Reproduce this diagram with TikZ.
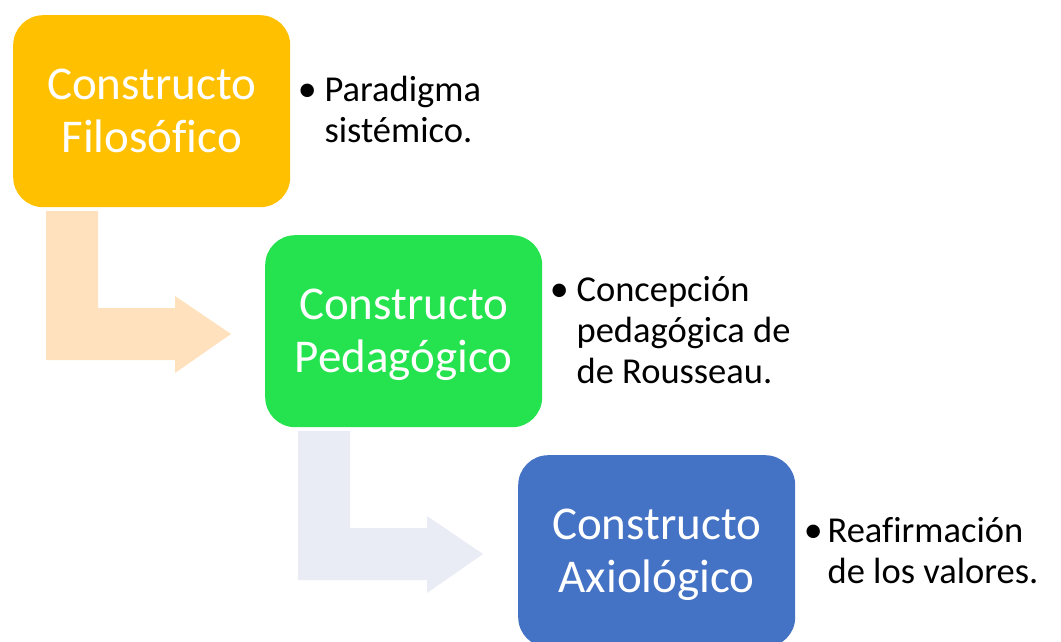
\documentclass[tikz,border=0pt]{standalone}
\usepackage{fontspec}
\setmainfont[Ligatures=CommonOff]{Carlito}
\usetikzlibrary{calc}
\definecolor{cgold}{HTML}{FFC000}
\definecolor{cgreen}{HTML}{25E34F}
\definecolor{cblue}{HTML}{4472C4}
\definecolor{cpeach}{HTML}{FFE1BD}
\definecolor{clav}{HTML}{E9EBF5}
\begin{document}
\begin{tikzpicture}[x=1pt,y=-1pt,
  box/.style={rectangle, rounded corners=30pt, minimum width=277pt, minimum height=192pt, inner sep=0pt, anchor=north west},
  lbl/.style={anchor=base, text=white, font=\fontsize{47}{53}\selectfont, inner sep=0pt},
  bul/.style={anchor=base west, text=black, font=\fontsize{36.5}{41}\selectfont, inner sep=0pt},
  dot/.style={anchor=base, text=black, font=\fontsize{38}{41}\selectfont, inner sep=0pt}]
\useasboundingbox (0,0) rectangle (1061,642);
\clip (0,0) rectangle (1061,642);

% bent arrows
\fill[cpeach] (46,211) -- (98,211) -- (98,308) -- (175,308) -- (175,296) -- (231,334)
  -- (175,373) -- (175,360) -- (46,360) -- cycle;
\fill[clav] (298,431) -- (350,431) -- (350,528) -- (427,528) -- (427,516) -- (483,554)
  -- (427,593) -- (427,580) -- (298,580) -- cycle;

% boxes
\node[box, fill=cgold] (b1) at (13,15) {};
\node[box, fill=cgreen] (b2) at (265,235) {};
\node[box, fill=cblue] (b3) at (518,455) {};

% box labels
\node[lbl] (l1) at ($(b1.center)+(0,-12)$) {\begin{tabular}[t]{@{}c@{}}Constructo\\Filosófico\end{tabular}};
\node[lbl] (l2) at ($(b2.center)+(0,-12)$) {\begin{tabular}[t]{@{}c@{}}Constructo\\Pedagógico\end{tabular}};
\node[lbl] (l3) at ($(b3.center)+(0,-12)$) {\begin{tabular}[t]{@{}c@{}}Constructo\\Axiológico\end{tabular}};

% bullet texts
\node[bul] (t1) at ($(b1.east)+(34,-10)$) {\begin{tabular}[t]{@{}l@{}}Paradigma\\sistémico.\end{tabular}};
\node[bul] (t2) at ($(b2.east)+(34,-30)$) {\begin{tabular}[t]{@{}l@{}}Concepción\\pedagógica de\\de Rousseau.\end{tabular}};
\node[bul] (t3) at ($(b3.east)+(32,-9)$) {\begin{tabular}[t]{@{}l@{}}Reafirmación\\de los valores.\end{tabular}};

\node[dot] (d1) at ($(t1.base west)+(-17,0)$) {•};
\node[dot] (d2) at ($(t2.base west)+(-17,0)$) {•};
\node[dot] (d3) at ($(t3.base west)+(-14,0)$) {•};
\end{tikzpicture}
\end{document}
